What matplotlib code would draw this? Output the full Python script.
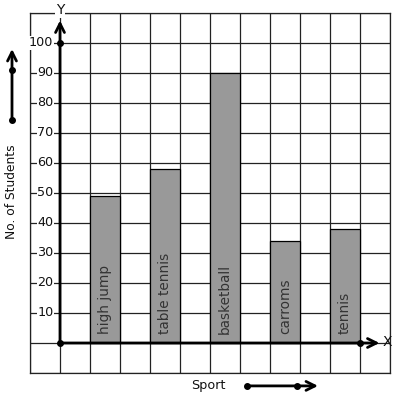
import matplotlib
matplotlib.use("Agg")
import matplotlib.pyplot as plt

# data
sports = ["high jump", "table tennis", "basketball", "carroms", "tennis"]
students = [49, 58, 90, 34, 38]
bar_left = [1, 3, 5, 7, 9]
yticks = [10, 20, 30, 40, 50, 60, 70, 80, 90, 100]

fig = plt.figure(figsize=(3.97, 3.99), dpi=100)
ax = fig.add_axes([30 / 397, 26 / 399, 360 / 397, 360 / 399])
ax.set_xlim(-1, 11)
ax.set_ylim(-10, 110)

# grid squares
for gx in range(-1, 12):
    ax.axvline(gx, color="#222222", lw=0.9, zorder=1)
for gy in range(-10, 111, 10):
    ax.axhline(gy, color="#222222", lw=0.9, zorder=1)
for s in ax.spines.values():
    s.set_color("#222222")
    s.set_linewidth(0.9)
ax.set_xticks([])
ax.set_yticks([])

# bars
ax.bar(bar_left, students, width=1, align="edge", color="#999999",
       edgecolor="black", linewidth=0.9, zorder=2)
for x0, name in zip(bar_left, sports):
    ax.text(x0 + 0.5, 3, name, rotation=90, ha="center", va="bottom",
            fontsize=9.8, color="#333333", zorder=3)

# tick labels (white box hides the grid line behind the digits)
for t in yticks:
    ax.text(-0.22, t, str(t), ha="right", va="center", fontsize=9.2,
            color="#111111", zorder=3,
            bbox=dict(facecolor="white", edgecolor="none", pad=0.2))

# axes with arrows
ax.annotate("", xy=(0, 107.5), xytext=(0, 0), annotation_clip=False,
            arrowprops=dict(arrowstyle="->", lw=2, color="black",
                            mutation_scale=16, shrinkA=0, shrinkB=0), zorder=4)
ax.annotate("", xy=(10.65, 0), xytext=(0, 0), annotation_clip=False,
            arrowprops=dict(arrowstyle="->", lw=2, color="black",
                            mutation_scale=16, shrinkA=0, shrinkB=0), zorder=4)
ax.plot([0, 0, 10], [0, 100, 0], "o", color="black", ms=4, zorder=5, clip_on=False)
ax.text(10.75, 0.3, "X", ha="left", va="center", fontsize=10, color="#111111")
ax.text(0, 111, "Y", ha="center", va="center", fontsize=10, color="#111111",
        bbox=dict(facecolor="white", edgecolor="none", pad=0.5), clip_on=False)

# side labels with arrows
ax.annotate("", xy=(-1.6, 98), xytext=(-1.6, 74.3), annotation_clip=False,
            arrowprops=dict(arrowstyle="->", lw=2, color="black",
                            mutation_scale=16, shrinkA=0, shrinkB=0))
ax.plot([-1.6, -1.6], [74.3, 91], "o", color="black", ms=4, clip_on=False)
ax.text(-1.6, 50.3, "No. of Students", rotation=90, ha="center", va="center",
        fontsize=8.8, color="#111111")

ax.annotate("", xy=(8.6, -14.3), xytext=(6.23, -14.3), annotation_clip=False,
            arrowprops=dict(arrowstyle="->", lw=2, color="black",
                            mutation_scale=16, shrinkA=0, shrinkB=0))
ax.plot([6.23, 7.9], [-14.3, -14.3], "o", color="black", ms=4, clip_on=False)
ax.text(4.93, -14, "Sport", ha="center", va="center", fontsize=9.2, color="#111111")

fig.savefig("out.png", dpi=100)
